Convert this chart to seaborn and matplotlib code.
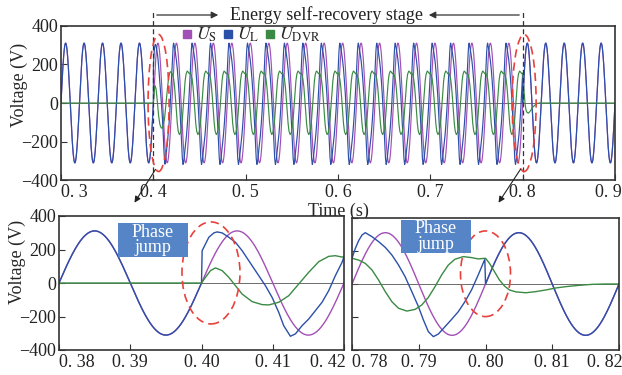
import numpy as np
import pandas as pd
import matplotlib
matplotlib.use("Agg")
import matplotlib.pyplot as plt
import matplotlib.transforms as mtransforms
import seaborn as sns
from matplotlib.patches import Ellipse, Rectangle, FancyArrowPatch
from matplotlib.lines import Line2D

# ---------------- data ----------------
AMP = 311.0      # source / load voltage peak (V)
FREQ = 50.0      # Hz
T_START, T_JUMP, T_STEADY, T_RECOVER, T_END = 0.30, 0.40, 0.42, 0.80, 0.90
N_STEADY_CYCLES = 19          # 0.42 ... 0.80
CYCLE_MS = 20.0

# U_L right after the phase jump (ms after 0.40 s)
jump_uL_ms = [0.09, 1.03, 1.73, 2.20, 2.90, 3.83, 4.77, 5.70, 6.64, 7.57, 8.50, 8.97,
              9.91, 10.84, 11.54, 12.48, 13.18, 14.11, 15.05, 15.98, 16.92, 17.85, 18.79, 19.72]
jump_uL = [193, 273, 299, 305, 299, 273, 243, 193, 133, 74, 14, -16,
           -86, -175, -255, -318, -304, -255, -215, -165, -115, -46, 44, 123]
# U_DVR right after the phase jump (ms after 0.40 s)
jump_dvr_ms = [0.0, 0.56, 1.26, 1.96, 2.90, 3.83, 4.77, 5.70, 7.10, 8.50, 9.44, 10.84,
               12.24, 13.64, 15.05, 16.45, 17.85, 18.79, 19.72]
jump_dvr = [0, 34, 74, 90, 74, 34, -16, -66, -111, -129, -131, -115,
            -76, -6, 64, 127, 159, 163, 155]

# one steady compensation cycle (ms after cycle start)
cyc_uL_ms = [0.0, 0.5, 1.0, 1.5, 1.99, 2.99, 3.98, 4.98, 5.97, 6.97, 7.96, 8.96, 9.95,
             10.70, 11.44, 12.19, 12.94, 13.93, 14.93, 15.92, 16.92, 17.91, 18.91, 19.90]
cyc_uL = [156, 216, 263, 297, 311, 287, 257, 222, 176, 115, 44, -46, -137,
          -218, -289, -319, -303, -259, -214, -168, -107, -36, 55, 150]
cyc_dvr_ms = [0.0, 1.0, 1.99, 2.99, 3.98, 4.98, 5.97, 6.97, 8.21, 9.45, 10.45, 11.44,
              12.44, 13.43, 14.43, 15.42, 16.67, 17.91, 18.91]
cyc_dvr = [156, 145, 125, 85, 24, -46, -107, -147, -164, -154, -127, -81,
           -16, 55, 115, 150, 166, 160, 152]

# U_DVR decay after recovery (ms after 0.80 s)
rec_dvr_ms = [0.0, 0.6, 1.34, 2.09, 2.84, 3.58, 4.58, 6.07, 7.56, 9.05, 10.55, 12.04,
              14.03, 16.02, 18.0, 19.85]
rec_dvr = [156, 125, 75, 24, -12, -36, -48, -53, -46, -36, -24, -16, -8, -2, 0, 0]

series_labels = [r"$U_{\rm S}$", r"$U_{\rm L}$", r"$U_{\rm DVR}$"]
series_colors = ["#a24fb6", "#2b50a8", "#3a8a44"]

top_xticks = [0.3, 0.4, 0.5, 0.6, 0.7, 0.8, 0.9]
top_xlabels = ["0. 3", "0. 4", "0. 5", "0. 6", "0. 7", "0. 8", "0. 9"]
bl_xticks = [0.38, 0.39, 0.40, 0.41, 0.42]
bl_xlabels = ["0. 38", "0. 39", "0. 40", "0. 41", "0. 42"]
br_xticks = [0.78, 0.79, 0.80, 0.81, 0.82]
br_xlabels = ["0. 78", "0. 79", "0. 80", "0. 81", "0. 82"]
yticks = [-400, -200, 0, 200, 400]
ylabels = ["\u2212400", "\u2212200", "0", "200", "400"]

# ---------------- build the waveforms ----------------
dt = 1e-4
t_all = np.round(np.arange(T_START, T_END + dt / 2, dt), 6)
w = 2 * np.pi * FREQ
u_s = AMP * np.sin(w * t_all)

pre = t_all <= T_JUMP + 1e-9
post = t_all >= T_RECOVER - 1e-9
t_L = [t_all[pre], T_JUMP + np.array(jump_uL_ms) / 1000]
v_L = [u_s[pre], np.array(jump_uL, float)]
t_D = [t_all[t_all < T_JUMP - 1e-9], T_JUMP + np.array(jump_dvr_ms) / 1000]
v_D = [np.zeros((t_all < T_JUMP - 1e-9).sum()), np.array(jump_dvr, float)]
for k in range(N_STEADY_CYCLES):
    t0 = T_STEADY + k * CYCLE_MS / 1000
    t_L.append(t0 + np.array(cyc_uL_ms) / 1000)
    v_L.append(np.array(cyc_uL, float))
    t_D.append(t0 + np.array(cyc_dvr_ms) / 1000)
    v_D.append(np.array(cyc_dvr, float))
t_L.append(t_all[post]); v_L.append(u_s[post])
t_D.append(T_RECOVER + np.array(rec_dvr_ms) / 1000); v_D.append(np.array(rec_dvr, float))
tail = t_all > T_RECOVER + 0.0205
t_D.append(t_all[tail]); v_D.append(np.zeros(tail.sum()))

df_S = pd.DataFrame({"t": t_all, "v": u_s})
df_L = pd.DataFrame({"t": np.concatenate(t_L), "v": np.concatenate(v_L)})
df_D = pd.DataFrame({"t": np.concatenate(t_D), "v": np.concatenate(v_D)})

# ---------------- figure ----------------
sns.set_theme(style="ticks")
plt.rcParams["font.family"] = ["Liberation Serif", "DejaVu Serif"]
plt.rcParams["mathtext.fontset"] = "stix"
plt.rcParams["axes.unicode_minus"] = True

W, H = 622, 375
fig = plt.figure(figsize=(W / 100, H / 100), dpi=100)
FS = 13


def px_rect(x0, y0, x1, y1):
    return [x0 / W, 1 - y1 / H, (x1 - x0) / W, (y1 - y0) / H]


ax_top = fig.add_axes(px_rect(61, 26, 615, 180))
ax_bl = fig.add_axes(px_rect(59, 216, 344, 350))
ax_br = fig.add_axes(px_rect(352, 218, 619, 350))

for ax, lw in [(ax_top, 0.85), (ax_bl, 1.0), (ax_br, 1.0)]:
    ax.axhline(0, color="#555555", lw=0.6, zorder=1)
    for df, c in zip([df_S, df_L, df_D], series_colors):
        sns.lineplot(data=df, x="t", y="v", ax=ax, color=c, lw=lw,
                     estimator=None, sort=False, legend=False, zorder=2)
    ax.set_ylim(-400, 400)
    ax.set_yticks(yticks)
    ax.set_xlabel("")
    ax.set_ylabel("")
    for s in ax.spines.values():
        s.set_color("#333333")
        s.set_linewidth(1.2)
    ax.tick_params(direction="in", length=4, width=0.8, colors="#333333",
                   labelsize=FS, labelcolor="#222222", pad=2)

ax_top.set_xlim(0.3, 0.9)
ax_top.set_xticks(top_xticks, top_xlabels)
ax_top.set_yticklabels(ylabels)
ax_bl.set_xlim(0.38, 0.42)
ax_bl.set_xticks(bl_xticks, bl_xlabels)
ax_bl.set_yticklabels(ylabels)
ax_br.set_xlim(0.78, 0.82)
ax_br.set_xticks(br_xticks, br_xlabels)
ax_br.set_yticklabels([])

for ax in (ax_top, ax_bl, ax_br):
    labs = ax.get_xticklabels()
    labs[0].set_ha("left")
    labs[-1].set_ha("center")
    ax.tick_params(axis="x", pad=3)


def shift(lbl, dx):
    lbl.set_transform(lbl.get_transform() +
                      mtransforms.ScaledTranslation(dx / 100, 0, fig.dpi_scale_trans))


shift(ax_top.get_xticklabels()[-1], -7)
shift(ax_br.get_xticklabels()[-1], -14)
shift(ax_bl.get_xticklabels()[-1], -16)

ax_top.set_xlabel("Time (s)", fontsize=FS)
ax_top.xaxis.set_label_coords(0.5, -0.145)
ax_top.set_ylabel("Voltage (V)", fontsize=FS)
ax_top.yaxis.set_label_coords(-0.06, 0.62)
ax_bl.set_ylabel("Voltage (V)", fontsize=FS)
ax_bl.yaxis.set_label_coords(-0.116, 0.66)

# legend
handles = [Line2D([], [], marker="s", ls="none", color=c, markersize=6) for c in series_colors]
ax_top.legend(handles, series_labels, loc="upper left", bbox_to_anchor=(0.212, 1.0),
              ncol=3, frameon=False, fontsize=FS, handletextpad=0.05,
              columnspacing=0.15, handlelength=0.9, borderaxespad=0, borderpad=0)

# dashed vertical lines marking the stage
for tx in (T_JUMP, T_RECOVER):
    ax_top.plot([tx, tx], [-400, 400 + 170 / 154 * 800 - 800], ls=(0, (4, 2.5)),
                color="#333333", lw=0.9, clip_on=False, zorder=5)

# red dashed ellipses
RED = "#e8413c"
ell_kw = dict(fill=False, edgecolor=RED, lw=1.2, ls=(0, (5, 3)), zorder=6)
ax_top.add_patch(Ellipse((0.4057, 0), 0.0228, 712, **ell_kw))
ax_top.add_patch(Ellipse((0.8016, 0), 0.026, 712, **ell_kw))
ax_bl.add_patch(Ellipse((0.40133, 60), 0.00814, 609, **ell_kw))
ax_br.add_patch(Ellipse((0.8000, 62), 0.00749, 519, **ell_kw))


def fx(x):
    return x / W


def fy(y):
    return 1 - y / H


# stage arrows and text
arr_kw = dict(arrowstyle="-|>", color="#333333", lw=0.9, mutation_scale=10)
fig.patches.append(FancyArrowPatch((fx(154), fy(15)), (fx(221), fy(15)),
                                   transform=fig.transFigure, **arr_kw))
fig.patches.append(FancyArrowPatch((fx(522), fy(15)), (fx(426), fy(15)),
                                   transform=fig.transFigure, **arr_kw))
fig.text(fx(327), fy(15), "Energy self-recovery stage", ha="center", va="center",
         fontsize=FS, color="#222222")

# zoom arrows
zarr = dict(arrowstyle="-|>", color="#222222", lw=0.8, mutation_scale=9)
fig.patches.append(FancyArrowPatch((fx(157), fy(167)), (fx(133), fy(205)),
                                   transform=fig.transFigure, **zarr))
fig.patches.append(FancyArrowPatch((fx(522), fy(167)), (fx(497), fy(205)),
                                   transform=fig.transFigure, **zarr))

# phase jump boxes
BOX = "#5585c6"
for (x0, y0, x1, y1) in [(118, 223, 188, 257), (401, 220, 471, 253)]:
    fig.patches.append(Rectangle((fx(x0), fy(y1)), (x1 - x0) / W, (y1 - y0) / H,
                                 transform=fig.transFigure, facecolor=BOX,
                                 edgecolor="none", zorder=10))
    fig.text(fx((x0 + x1) / 2), fy((y0 + y1) / 2), "Phase\njump", ha="center",
             va="center", fontsize=FS, color="white", linespacing=0.85, zorder=11)

fig.savefig("out.png", dpi=100)
